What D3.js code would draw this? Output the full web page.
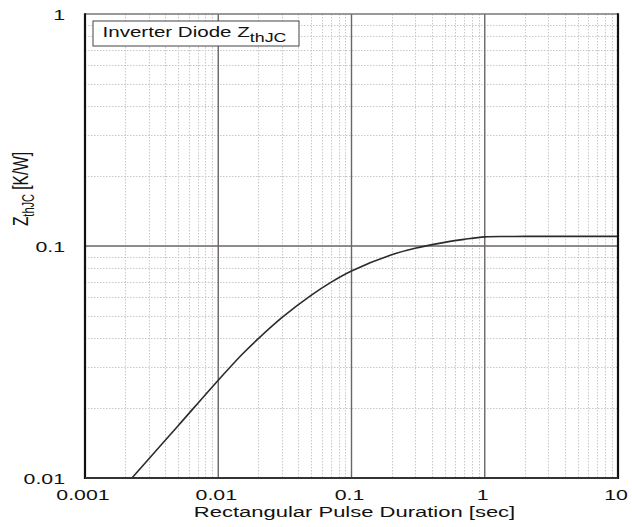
<!DOCTYPE html>
<html>
<head>
<meta charset="utf-8">
<script src="https://cdn.jsdelivr.net/npm/d3@7"></script>
<style>
  html, body { margin: 0; padding: 0; background: #fff; }
  svg { display: block; }
  text { font-family: "Liberation Sans", Arial, sans-serif; fill: #111; }
</style>
</head>
<body>
<svg id="chart" width="632" height="527"></svg>
<script>
// Transient thermal impedance of the inverter diode (junction to case)
const pulseDuration = [0.00225, 0.005, 0.01, 0.015, 0.02, 0.03, 0.05, 0.07, 0.1, 0.2, 0.3, 0.5, 0.7, 1, 1.5, 2, 10];
const zthJC         = [0.0100, 0.0168, 0.0264, 0.0340, 0.0399, 0.0491, 0.0614, 0.0697, 0.0780, 0.0916, 0.0977, 0.1037, 0.1068, 0.1095, 0.1099, 0.1100, 0.1100];

const xTickValues = [0.001, 0.01, 0.1, 1, 10];
const xTickLabels = ["0.001", "0.01", "0.1", "1", "10"];
const yTickValues = [0.01, 0.1, 1];
const yTickLabels = ["0.01", "0.1", "1"];

const legendMain = "Inverter Diode Z";
const legendSub = "thJC";
const xTitle = "Rectangular Pulse Duration [sec]";
const yTitleMain = "Z";
const yTitleSub = "thJC";
const yTitleRest = " [K/W]";

const margin = { left: 85, right: 14, top: 14, bottom: 49 };
const W = 632, H = 527;
const stretch = 1.42; // wide lettering

const svg = d3.select("#chart");
const x = d3.scaleLog().domain([0.001, 10]).range([margin.left, W - margin.right]);
const y = d3.scaleLog().domain([0.01, 1]).range([H - margin.bottom, margin.top]);

// minor grid values (2..9 in each decade)
const minorX = [], minorY = [];
for (let d = 0.001; d < 10 - 1e-9; d *= 10) for (let k = 2; k <= 9; k++) minorX.push(d * k);
for (let d = 0.01; d < 1 - 1e-9; d *= 10) for (let k = 2; k <= 9; k++) minorY.push(d * k);

const grid = svg.append("g");
grid.selectAll(".mx").data(minorX).join("line")
  .attr("x1", d => Math.round(x(d)) + 0.5).attr("x2", d => Math.round(x(d)) + 0.5)
  .attr("y1", y(1)).attr("y2", y(0.01))
  .attr("stroke", "#c8c8c8").attr("stroke-width", 1).attr("stroke-dasharray", "1.5,1.5");
grid.selectAll(".my").data(minorY).join("line")
  .attr("y1", d => Math.round(y(d)) + 0.5).attr("y2", d => Math.round(y(d)) + 0.5)
  .attr("x1", x(0.001)).attr("x2", x(10))
  .attr("stroke", "#c8c8c8").attr("stroke-width", 1).attr("stroke-dasharray", "1.5,1.5");

// major grid lines
grid.selectAll(".Mx").data([0.01, 0.1, 1]).join("line")
  .attr("x1", d => x(d)).attr("x2", d => x(d))
  .attr("y1", y(1)).attr("y2", y(0.01))
  .attr("stroke", "#6a6664").attr("stroke-width", 1.4);
grid.selectAll(".My").data([0.1]).join("line")
  .attr("y1", d => y(d)).attr("y2", d => y(d))
  .attr("x1", x(0.001)).attr("x2", x(10))
  .attr("stroke", "#6a6664").attr("stroke-width", 1.4);

// curve
const pts = pulseDuration.map((t, i) => [t, zthJC[i]]);
svg.append("path")
  .datum(pts)
  .attr("fill", "none")
  .attr("stroke", "#2b2b2b")
  .attr("stroke-width", 1.6)
  .attr("d", d3.line().x(d => x(d[0])).y(d => y(d[1])).curve(d3.curveCatmullRom.alpha(0.5)));

// frame
const x0 = x(0.001), x1 = x(10), y0 = y(0.01), y1 = y(1);
svg.append("line").attr("x1", x0).attr("x2", x1).attr("y1", y1).attr("y2", y1)
  .attr("stroke", "#777").attr("stroke-width", 1.6);
svg.append("line").attr("x1", x0).attr("x2", x0).attr("y1", y1 - 0.8).attr("y2", y0 + 1)
  .attr("stroke", "#111").attr("stroke-width", 2.2);
svg.append("line").attr("x1", x1).attr("x2", x1).attr("y1", y1 - 0.8).attr("y2", y0 + 1)
  .attr("stroke", "#111").attr("stroke-width", 2.2);
svg.append("line").attr("x1", x0).attr("x2", x1).attr("y1", y0).attr("y2", y0)
  .attr("stroke", "#333").attr("stroke-width", 2);

// stretched text helper
function stext(g, str, tx, ty, anchor, size) {
  return g.append("g").attr("transform", `translate(${tx},${ty}) scale(${stretch},1)`)
    .append("text").attr("text-anchor", anchor).attr("font-size", size).text(str);
}

// axes built from the scales, then restyled
const xAxis = d3.axisBottom(x).tickValues(xTickValues).tickSize(0).tickFormat("");
svg.append("g").attr("transform", `translate(0,${y0})`).call(xAxis).call(g => g.select(".domain").remove());
const yAxis = d3.axisLeft(y).tickValues(yTickValues).tickSize(0).tickFormat("");
svg.append("g").attr("transform", `translate(${x0},0)`).call(yAxis).call(g => g.select(".domain").remove());

const labels = svg.append("g");
xTickValues.forEach((v, i) => stext(labels, xTickLabels[i], x(v) - 2, y0 + 22, "middle", 15));
yTickValues.forEach((v, i) => stext(labels, yTickLabels[i], 65, y(v) + 5.5, "end", 15));

// axis titles
stext(labels, xTitle, (x0 + x1) / 2 + 3, y0 + 39, "middle", 15.5);

const yt = svg.append("g").attr("transform", `translate(28,189) scale(${stretch},1) rotate(-90)`)
  .append("text").attr("text-anchor", "middle").attr("font-size", 15.5);
yt.append("tspan").text(yTitleMain);
yt.append("tspan").attr("font-size", 11).attr("dy", 4).text(yTitleSub);
yt.append("tspan").attr("dy", -4).text(yTitleRest);

// legend box
svg.append("rect").attr("x", 93).attr("y", 21).attr("width", 206).attr("height", 25)
  .attr("fill", "#fff").attr("stroke", "#555").attr("stroke-width", 1.1);
const lg = svg.append("g").attr("transform", `translate(102.5,37) scale(1.37,1)`)
  .append("text").attr("font-size", 15);
lg.append("tspan").text(legendMain);
lg.append("tspan").attr("font-size", 13).attr("dy", 4.5).text(legendSub);
</script>
</body>
</html>
